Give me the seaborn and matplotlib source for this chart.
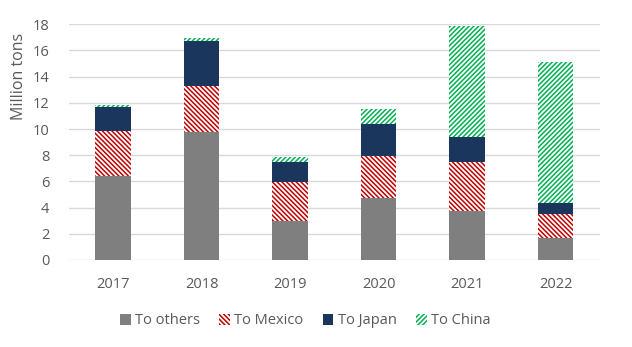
import matplotlib
matplotlib.use("Agg")
import matplotlib.pyplot as plt
from matplotlib.patches import Patch
import seaborn as sns
import pandas as pd
import numpy as np

years = ["2017", "2018", "2019", "2020", "2021", "2022"]
to_others = [6.44, 9.80, 2.95, 4.76, 3.77, 1.65]
to_mexico = [3.39, 3.49, 3.01, 3.18, 3.71, 1.89]
to_japan = [1.83, 3.46, 1.50, 2.47, 1.91, 0.79]
to_china = [0.15, 0.18, 0.41, 1.10, 8.51, 10.79]
series_names = ["To others", "To Mexico", "To Japan", "To China"]

sns.set_theme(style="white")
plt.rcParams["font.family"] = ["Open Sans", "DejaVu Sans"]
plt.rcParams["hatch.linewidth"] = 1.1

df = pd.DataFrame({"year": years, "To others": to_others, "To Mexico": to_mexico,
                   "To Japan": to_japan, "To China": to_china})
cum = df[series_names].cumsum(axis=1)

fig = plt.figure(figsize=(6.32, 3.47), dpi=100)
ax = fig.add_axes([0.109, 0.251, 0.840, 0.679])

styles = {
    "To others": dict(face="#7f7f7f", edge="#7f7f7f", hatch=None),
    "To Mexico": dict(face="white", edge="#c00000", hatch="\\" * 7),
    "To Japan": dict(face="#1b365d", edge="#1b365d", hatch=None),
    "To China": dict(face="white", edge="#00b050", hatch="/" * 7),
}

for name in reversed(series_names):
    st = styles[name]
    before = len(ax.patches)
    sns.barplot(x=df["year"], y=cum[name], ax=ax, color=st["face"], width=0.4,
                saturation=1, linewidth=0, zorder=2)
    for p in ax.patches[before:]:
        p.set_facecolor(st["face"])
        p.set_edgecolor(st["edge"])
        p.set_linewidth(0)
        if st["hatch"]:
            p.set_hatch(st["hatch"])

ax.set_ylim(0, 18)
ax.set_yticks(np.arange(0, 19, 2))
ax.set_xlim(-0.5, 5.5)
ax.yaxis.grid(True, color="#d9d9d9", linewidth=1.0, zorder=0)
ax.set_axisbelow(True)
for s in ax.spines.values():
    s.set_visible(False)
ax.tick_params(axis="both", length=0, labelsize=10.5, labelcolor="#595959")
ax.tick_params(axis="y", pad=14)
ax.tick_params(axis="x", pad=12)
ax.set_xlabel("")
ax.set_ylabel("Million tons", fontsize=11.5, color="#595959")
ax.yaxis.set_label_coords(-0.079, 0.78)

handles = [Patch(facecolor=styles[n]["face"], edgecolor=styles[n]["edge"],
                 hatch=styles[n]["hatch"], linewidth=0, label=n) for n in series_names]
fig.legend(handles=handles, loc="center", bbox_to_anchor=(0.483, 0.075), ncol=4,
           frameon=False, fontsize=10.5, handlelength=0.75, handleheight=0.75,
           handletextpad=0.3, columnspacing=1.3, labelcolor="#595959")

fig.savefig("out.png", dpi=100)
